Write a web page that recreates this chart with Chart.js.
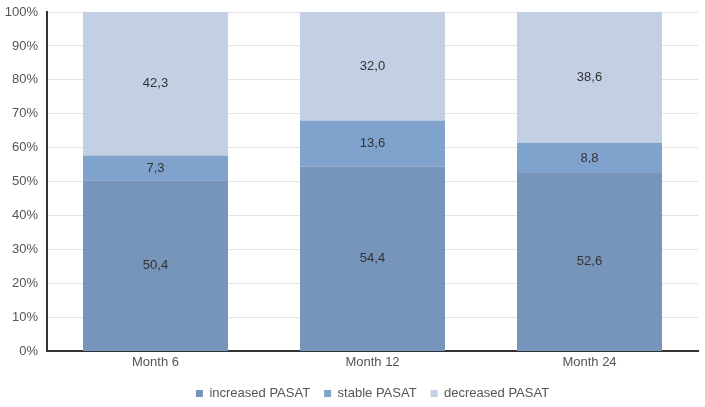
<!DOCTYPE html>
<html>
<head>
<meta charset="utf-8">
<script src="https://cdn.jsdelivr.net/npm/chart.js@4"></script>
<style>
html,body{margin:0;padding:0;background:#fff;}
#wrap{width:705px;height:407px;}
</style>
</head>
<body>
<div id="wrap"><canvas id="c" width="705" height="407"></canvas></div>
<script>
const categories = ["Month 6", "Month 12", "Month 24"];
const increasedPASAT = [50.4, 54.4, 52.6];
const stablePASAT = [7.3, 13.6, 8.8];
const decreasedPASAT = [42.3, 32.0, 38.6];
const seriesNames = ["increased PASAT", "stable PASAT", "decreased PASAT"];
const yTicks = [0,10,20,30,40,50,60,70,80,90,100];

const FONT = '"Liberation Sans", Arial, sans-serif';

const labelPlugin = {
  id: 'segLabels',
  afterDatasetsDraw(chart) {
    const ctx = chart.ctx;
    ctx.save();
    ctx.font = '13px ' + FONT;
    ctx.fillStyle = '#333';
    ctx.textAlign = 'center';
    ctx.textBaseline = 'middle';
    chart.data.datasets.forEach((ds, i) => {
      const meta = chart.getDatasetMeta(i);
      meta.data.forEach((bar, j) => {
        const y = (bar.y + bar.base) / 2;
        ctx.fillText(ds.data[j].toFixed(1).replace('.', ','), bar.x, y);
      });
    });
    ctx.restore();
  }
};

new Chart(document.getElementById('c'), {
  type: 'bar',
  data: {
    labels: categories,
    datasets: [
      { label: seriesNames[0], data: increasedPASAT, backgroundColor: '#7794BA' },
      { label: seriesNames[1], data: stablePASAT, backgroundColor: '#80A3CD' },
      { label: seriesNames[2], data: decreasedPASAT, backgroundColor: '#C3CFE3' }
    ]
  },
  options: {
    responsive: false,
    animation: false,
    layout: { padding: { top: 12, right: 7, left: 0, bottom: -3 } },
    datasets: { bar: { barPercentage: 0.668, categoryPercentage: 1.0 } },
    plugins: {
      legend: {
        position: 'bottom',
        fullSize: false,
        labels: {
          boxWidth: 7, boxHeight: 7, padding: 14,
          color: '#555',
          font: { family: FONT, size: 13 }
        }
      },
      tooltip: { enabled: false }
    },
    scales: {
      x: {
        stacked: true,
        grid: { display: false, drawTicks: false },
        border: { color: '#333', width: 2 },
        ticks: { color: '#555', padding: 3, font: { family: FONT, size: 13 } }
      },
      y: {
        stacked: true,
        min: 0, max: 100,
        afterBuildTicks(scale) { scale.ticks = yTicks.map(v => ({ value: v })); },
        afterFit(scale) { scale.width = 47; scale.paddingTop = 0; scale.paddingBottom = 0; },
        grid: { color: '#e3e3e3', drawTicks: false },
        border: { color: '#333', width: 2 },
        ticks: {
          color: '#555', padding: 9,
          font: { family: FONT, size: 13 },
          callback: v => v + '%'
        }
      }
    }
  },
  plugins: [labelPlugin]
});
</script>
</body>
</html>
